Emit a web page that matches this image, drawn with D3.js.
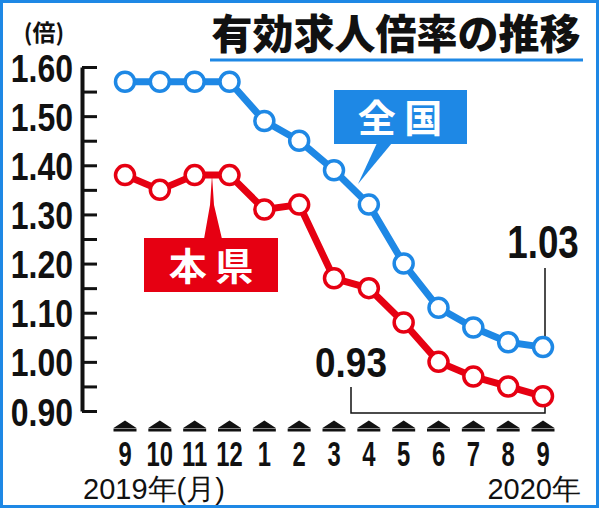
<!DOCTYPE html>
<html><head><meta charset="utf-8">
<script src="https://cdn.jsdelivr.net/npm/d3@7"></script>
<style>
html,body{margin:0;padding:0;background:#fff;}
svg{display:block;}
</style></head>
<body>
<svg id="chart" width="600" height="510"></svg>
<script>
// ---- data ----
const months = ["9","10","11","12","1","2","3","4","5","6","7","8","9"];
const national = [1.57,1.57,1.57,1.57,1.49,1.45,1.39,1.32,1.20,1.11,1.07,1.04,1.03];
const prefecture = [1.38,1.35,1.38,1.38,1.31,1.32,1.17,1.15,1.08,1.00,0.97,0.95,0.93];
const yLabelTicks = [0.90,1.00,1.10,1.20,1.30,1.40,1.50,1.60];
const yMinorTicks = [0.90,0.95,1.00,1.05,1.10,1.15,1.20,1.25,1.30,1.35,1.40,1.45,1.50,1.55,1.60];
const title = "有効求人倍率の推移";
const unitLabel = "(倍)";
const nationalName = "全 国";
const prefName = "本 県";
const startYear = "2019年(月)";
const endYear = "2020年";

const BLUE = "#1e88e5", RED = "#e60012";
const NUMFONT = "'Liberation Sans Narrow','Liberation Sans',sans-serif";
const JPFONT = "'Noto Sans CJK JP',sans-serif";

const svg = d3.select("#chart");
const x = d3.scaleLinear().domain([0, months.length - 1]).range([125, 543]);
const y = d3.scaleLinear().domain([0.90, 1.60]).range([411, 67]);

// frame
svg.append("rect").attr("x",1.5).attr("y",1.5).attr("width",596).attr("height",505)
  .attr("fill","none").attr("stroke",BLUE).attr("stroke-width",3);

// title
svg.append("text").attr("x",396).attr("y",49).attr("text-anchor","middle")
  .attr("font-family",JPFONT).attr("font-weight",900).attr("font-size",41)
  .attr("fill","#111").text(title);
svg.append("line").attr("x1",210).attr("x2",583).attr("y1",60).attr("y2",60)
  .attr("stroke",BLUE).attr("stroke-width",3);

// unit
svg.append("text").attr("x",44).attr("y",41).attr("text-anchor","middle")
  .attr("font-family",JPFONT).attr("font-weight",700).attr("font-size",23)
  .attr("fill","#111").text(unitLabel);

// y axis ticks (right side)
const axR = svg.append("g").attr("transform","translate(82,0)")
  .call(d3.axisRight(y).tickValues(yMinorTicks).tickSize(15).tickSizeOuter(0).tickFormat(""));
axR.select(".domain").attr("stroke","#111").attr("stroke-width",4);
axR.selectAll(".tick line").attr("stroke","#111").attr("stroke-width",3);

// y axis labels (left side)
const axL = svg.append("g").attr("transform","translate(73,0)")
  .call(d3.axisLeft(y).tickValues(yLabelTicks).tickSize(0).tickPadding(0).tickFormat(d3.format(".2f")));
axL.select(".domain").remove();
axL.selectAll(".tick text").attr("x",0).attr("font-family",NUMFONT).attr("font-weight",700)
  .attr("font-size",39).attr("fill","#111").attr("dy","0.36em")
  .attr("transform","scale(0.82,1)");

// x axis markers + labels
const xg = svg.append("g");
months.forEach((m,i)=>{
  const cx = x(i);
  xg.append("path").attr("d",`M${cx-11.5},428 L${cx},420.5 L${cx+11.5},428 Z`).attr("fill","#111");
  xg.append("rect").attr("x",cx-11.5).attr("y",428.5).attr("width",23).attr("height",3).attr("fill","#111");
  xg.append("text").attr("transform",`translate(${cx},466) scale(0.68,1)`).attr("text-anchor","middle")
    .attr("font-family",NUMFONT).attr("font-weight",700).attr("font-size",35).attr("fill","#111").text(m);
});
svg.append("text").attr("x",83).attr("y",499)
  .attr("font-family",NUMFONT).attr("font-size",29).attr("fill","#111").text(startYear);
svg.append("text").attr("x",581).attr("y",499).attr("text-anchor","end")
  .attr("font-family",NUMFONT).attr("font-size",29).attr("fill","#111").text(endYear);

// callouts (behind lines)
// national
svg.append("path").attr("d",`M377,143 L392,143 L358,184 Z`).attr("fill",BLUE);
svg.append("rect").attr("x",334).attr("y",90).attr("width",133).attr("height",54).attr("fill",BLUE);
svg.append("text").attr("x",400).attr("y",132).attr("text-anchor","middle")
  .attr("font-family",JPFONT).attr("font-weight",700).attr("font-size",38).attr("fill","#fff")
  .text(nationalName);
// prefecture
svg.append("path").attr("d",`M204,239 L210,205 L212,${y(1.38)} L214,205 L222,239 Z`).attr("fill",RED);
svg.append("rect").attr("x",144).attr("y",238).attr("width",134).attr("height",54).attr("fill",RED);
svg.append("text").attr("x",211).attr("y",280).attr("text-anchor","middle")
  .attr("font-family",JPFONT).attr("font-weight",700).attr("font-size",38).attr("fill","#fff")
  .text(prefName);

// annotations
const last = months.length - 1;
svg.append("path").attr("d",`M${x(last)+2},268 L${x(last)+2},${y(national[last])-10}`)
  .attr("stroke","#111").attr("stroke-width",1.5).attr("fill","none");
svg.append("text").attr("transform","translate(543,258) scale(0.8,1)").attr("text-anchor","middle")
  .attr("font-family",NUMFONT).attr("font-weight",700).attr("font-size",46).attr("fill","#111")
  .text(d3.format(".2f")(national[last]));
svg.append("path").attr("d",`M351,387 L351,413 L${x(last)+2},413 L${x(last)+2},${y(prefecture[last])+10}`)
  .attr("stroke","#111").attr("stroke-width",1.5).attr("fill","none");
svg.append("text").attr("transform","translate(351,377) scale(0.88,1)").attr("text-anchor","middle")
  .attr("font-family",NUMFONT).attr("font-weight",700).attr("font-size",42).attr("fill","#111")
  .text(d3.format(".2f")(prefecture[last]));

// series
const line = d3.line().x((d,i)=>x(i)).y(d=>y(d));
function drawSeries(data,color){
  const g = svg.append("g");
  g.append("path").datum(data).attr("d",line).attr("fill","none")
    .attr("stroke",color).attr("stroke-width",7).attr("stroke-linejoin","round");
  g.selectAll("circle").data(data).join("circle")
    .attr("cx",(d,i)=>x(i)).attr("cy",d=>y(d)).attr("r",9.5)
    .attr("fill","#fff").attr("stroke",color).attr("stroke-width",3.5);
}
drawSeries(national, BLUE);
drawSeries(prefecture, RED);
</script>
</body></html>
